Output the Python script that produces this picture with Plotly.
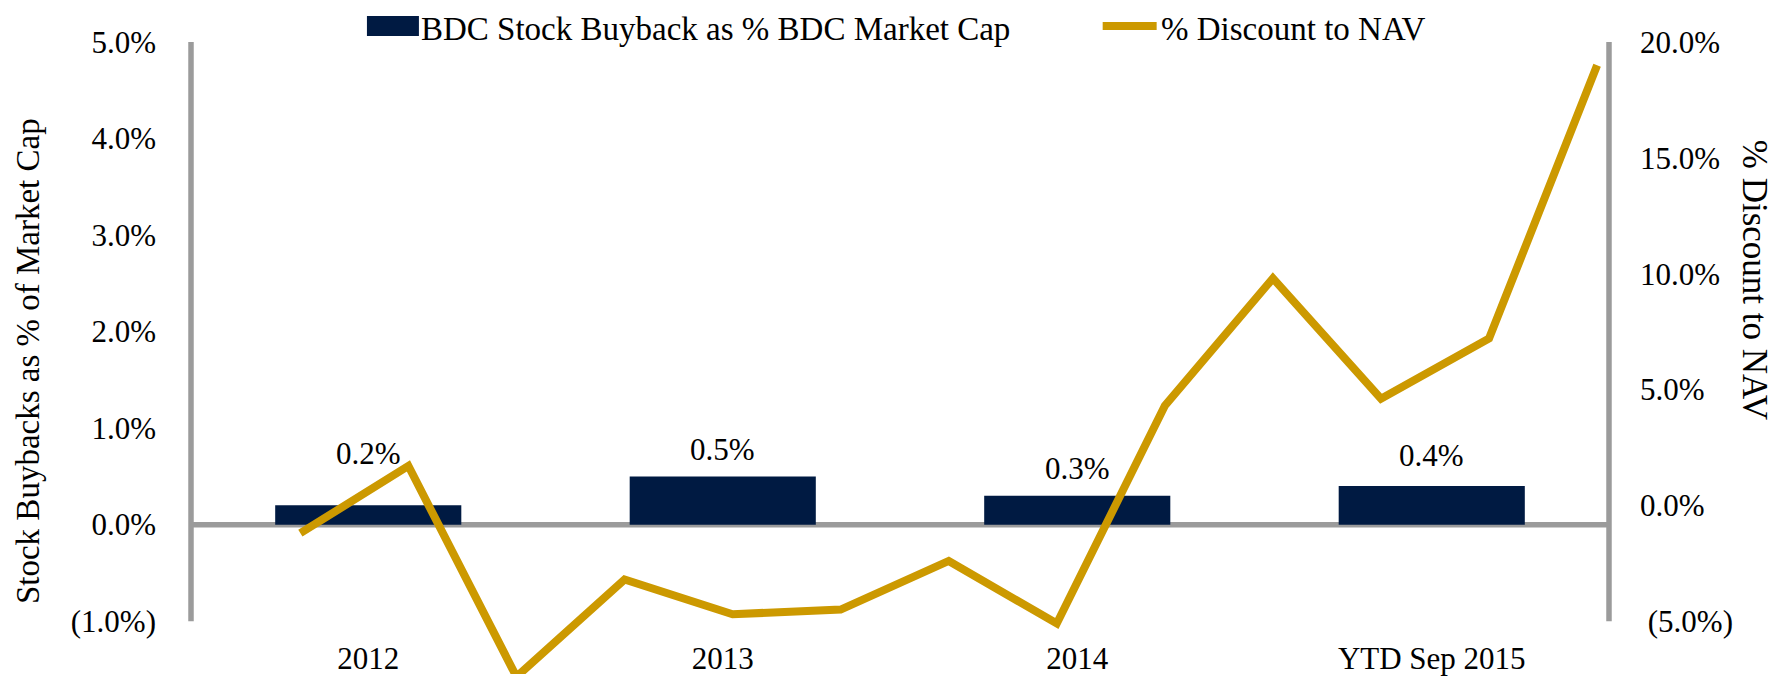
import plotly.graph_objects as go

# ---------------- data ----------------
categories = ["2012", "2013", "2014", "YTD Sep 2015"]
buyback_pct = [0.2, 0.5, 0.3, 0.4]

quarters = ["Q3 2012", "Q4 2012", "Q1 2013", "Q2 2013", "Q3 2013", "Q4 2013",
            "Q1 2014", "Q2 2014", "Q3 2014", "Q4 2014", "Q1 2015", "Q2 2015", "Q3 2015"]
discount_pct = [-1.2, 1.7, -7.4, -3.2, -4.7, -4.5, -2.4, -5.1, 4.3, 9.8, 4.6, 7.2, 19.0]

left_ticks = [-1, 0, 1, 2, 3, 4, 5]
left_ticktext = ["(1.0%)", "0.0%", "1.0%", "2.0%", "3.0%", "4.0%", "5.0%"]
right_ticks = [-5, 0, 5, 10, 15, 20]
right_ticktext = ["\u00a0(5.0%)", "0.0%", "5.0%", "10.0%", "15.0%", "20.0%"]

bar_name = "BDC Stock Buyback as % BDC Market Cap"
line_name = "% Discount to NAV"
left_title = "Stock Buybacks as % of Market Cap"
right_title = "% Discount to NAV"

# ---------------- style ----------------
NAVY = "#001A42"
GOLD = "#CC9900"
GREY = "#9B9B9B"
FONT = "Liberation Serif"
FS_NUM = 31
FS_LEG = 33

PAGE_W, PAGE_H = 1779, 676
OFF = 8  # default page body margin
W, H = PAGE_W - OFF, PAGE_H - OFF

# plot area in page pixels
PL, PR, PT, PB = 191, 1609.5, 42, PAGE_H
ML, MR, MT, MB = PL - OFF, PAGE_W - PR, PT - OFF, 0
PW, PH = PR - PL, PB - PT


def px(x):
    return (x - PL) / PW


def py(y):
    return (PB - y) / PH


fig = go.Figure()

fig.add_trace(go.Bar(
    x=categories, y=buyback_pct, name=bar_name,
    marker=dict(color=NAVY, line=dict(width=0)),
    width=0.525, xaxis="x", yaxis="y", showlegend=False,
    hoverinfo="skip",
))

fig.add_trace(go.Scatter(
    x=quarters, y=discount_pct, name=line_name, mode="lines",
    line=dict(color=GOLD, width=8),
    xaxis="x2", yaxis="y2", showlegend=False, hoverinfo="skip",
))

# bar value labels
label_shift = [52, 27, 27, 31]
annotations = []
for i, (v, s) in enumerate(zip(buyback_pct, label_shift)):
    annotations.append(dict(
        x=i, y=v, xref="x", yref="y", text=f"{v:.1f}%", showarrow=False,
        yshift=s, font=dict(family=FONT, size=FS_NUM, color="black"),
    ))

# axis titles
annotations.append(dict(
    x=px(28), y=py(362), xref="paper", yref="paper", text=left_title,
    textangle=-90, showarrow=False, xanchor="center", yanchor="middle",
    font=dict(family=FONT, size=33, color="black"),
))
annotations.append(dict(
    x=px(1755), y=py(281), xref="paper", yref="paper", text=right_title,
    textangle=90, showarrow=False, xanchor="center", yanchor="middle",
    font=dict(family=FONT, size=35, color="black"),
))

# custom legend text
annotations.append(dict(
    x=px(419), y=py(OFF + 0.5), xref="paper", yref="paper", text=bar_name,
    xanchor="left", yanchor="top", showarrow=False,
    font=dict(family=FONT, size=FS_LEG, color="black"),
))
annotations.append(dict(
    x=px(1159), y=py(OFF + 0.5), xref="paper", yref="paper", text=line_name,
    xanchor="left", yanchor="top", showarrow=False,
    font=dict(family=FONT, size=FS_LEG, color="black"),
))

shapes = [
    # zero line
    dict(type="line", xref="paper", yref="y", x0=0, x1=1, y0=0, y1=0,
         line=dict(color=GREY, width=5.5), layer="below"),
    # left axis line
    dict(type="line", xref="paper", yref="y", x0=0, x1=0, y0=-1, y1=5,
         line=dict(color=GREY, width=5.5), layer="below"),
    # right axis line
    dict(type="line", xref="paper", yref="y2", x0=1, x1=1, y0=-5, y1=20,
         line=dict(color=GREY, width=5.5), layer="below"),
    # legend swatches
    dict(type="rect", xref="paper", yref="paper", x0=px(367), x1=px(419),
         y0=py(36), y1=py(16), fillcolor=NAVY, line=dict(width=0)),
    dict(type="line", xref="paper", yref="paper", x0=px(1103), x1=px(1157),
         y0=py(26), y1=py(26), line=dict(color=GOLD, width=8)),
]

left_lo = -1 - (PB - 623) / ((623 - PT) / 6)
right_lo = -5 - (PB - 623) / ((623 - PT) / 25)

fig.update_layout(
    width=W, height=H,
    margin=dict(l=ML, r=MR, t=MT, b=MB, pad=0),
    paper_bgcolor="white", plot_bgcolor="white",
    font=dict(family=FONT, size=FS_NUM, color="black"),
    bargap=0.475,
    showlegend=False,
    xaxis=dict(
        type="category", categoryorder="array", categoryarray=categories,
        range=[-0.5, 3.5], showgrid=False, zeroline=False, showline=False,
        ticks="", anchor="free", position=0.059,
        tickfont=dict(family=FONT, size=FS_NUM, color="black"),
    ),
    xaxis2=dict(
        type="category", categoryorder="array", categoryarray=quarters,
        overlaying="x", range=[-1.012, 12.11], visible=False,
    ),
    yaxis=dict(
        range=[left_lo, 5], tickvals=left_ticks, ticktext=left_ticktext,
        showgrid=False, zeroline=False, showline=False, ticks="",
        ticklabelstandoff=34,
        tickfont=dict(family=FONT, size=FS_NUM, color="black"),
    ),
    yaxis2=dict(
        range=[right_lo, 20], tickvals=right_ticks, ticktext=right_ticktext,
        overlaying="y", side="right", anchor="x",
        showgrid=False, zeroline=False, showline=False, ticks="",
        ticklabelstandoff=30,
        tickfont=dict(family=FONT, size=FS_NUM, color="black"),
    ),
    annotations=annotations,
    shapes=shapes,
)

fig.write_html("out.html")
